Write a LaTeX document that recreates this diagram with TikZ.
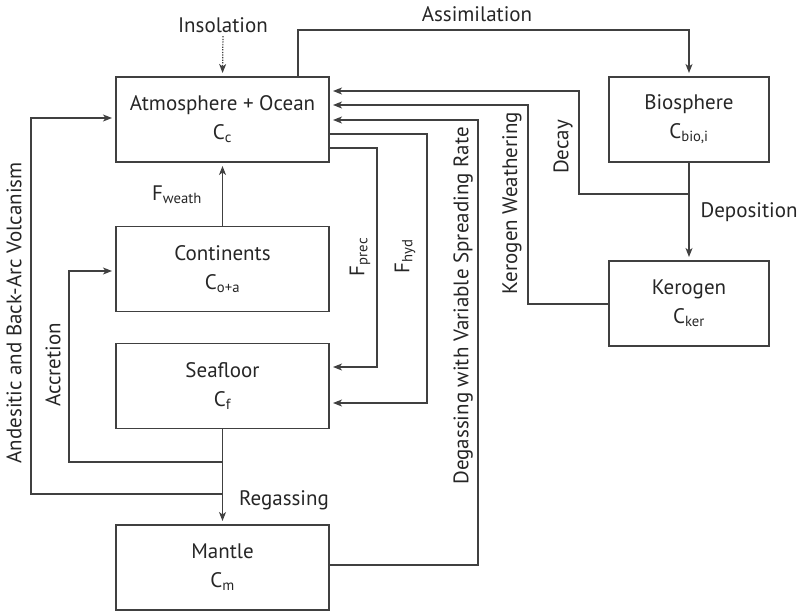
\documentclass[tikz,border=0pt]{standalone}
\usepackage{fontspec}
\setmainfont{PT Sans}
\usetikzlibrary{arrows.meta}
\begin{document}
\begin{tikzpicture}[x=1pt,y=-1pt,
  line width=1.2pt, draw={black!75},
  every node/.style={font=\fontsize{21}{29}\selectfont, text=black!85},
  box/.style={draw, outer sep=0pt, inner sep=0pt, align=center},
  leftbox/.style={box, minimum width=213pt, minimum height=85pt},
  rightbox/.style={box, minimum width=160pt, minimum height=85pt},
  arr/.style={-{Stealth[length=9pt,width=7pt,inset=2.5pt]}, shorten >=4pt},
  dots/.style={dash pattern=on 1.3pt off 1.3pt},
  lbl/.style={inner sep=0pt},
  vlbl/.style={inner sep=0pt, rotate=90}]
\useasboundingbox (0,0) rectangle (804,611);
% boxes
\node[leftbox] (atm) at (222.5,119.5) {Atmosphere + Ocean\\C\textsubscript{c}};
\node[leftbox] (cont) at (222.5,269) {Continents\\C\textsubscript{o+a}};
\node[leftbox] (sea) at (222.5,386) {Seafloor\\C\textsubscript{f}};
\node[leftbox] (mant) at (222.5,567.5) {Mantle\\C\textsubscript{m}};
\node[rightbox] (bio) at (689,119.5) {Biosphere\\C\textsubscript{bio,i}};
\node[rightbox] (ker) at (689,303.5) {Kerogen\\C\textsubscript{ker}};
% insolation
\node[lbl] (ins) at (223,25) {Insolation};
\draw[arr, dots, shorten <=3pt] (ins.south) -- (atm.north);
% assimilation
\draw[arr] (atm.north -| 298,0) -- (298,30) -- (bio.north |- 0,30) -- (bio.north);
\node[lbl] (assim) at (477,14) {Assimilation};
% deposition
\draw[arr] (bio.south) -- (ker.north);
\node[lbl] (depo) at (749,212) {Deposition};
% decay
\draw[arr] (bio.south |- 0,194) -| (579,91) -- (atm.east |- 0,91);
\node[vlbl] (decay) at (563,147) {Decay};
% kerogen weathering
\draw[arr] (ker.west |- 0,304) -| (528,105) -- (atm.east |- 0,105);
\node[vlbl] (kw) at (512,203) {Kerogen Weathering};
% degassing
\draw[arr] (mant.east |- 0,565) -| (478,120) -- (atm.east |- 0,120);
\node[vlbl] (degas) at (463,306) {Degassing with Variable Spreading Rate};
% F_hyd, F_prec
\draw[arr] (atm.east |- 0,134) -| (427,403) -- (sea.east |- 0,403);
\node[vlbl] (fhyd) at (405,256) {F\textsubscript{hyd}};
\draw[arr] (atm.east |- 0,148) -| (377,367) -- (sea.east |- 0,367);
\node[vlbl] (fprec) at (360,257) {F\textsubscript{prec}};
% weathering
\draw[arr] (cont.north) -- (atm.south);
\node[lbl] (fweath) at (177,195) {F\textsubscript{weath}};
% regassing
\draw[arr] (sea.south) -- (mant.north);
\node[lbl] (regas) at (284,500) {Regassing};
% accretion
\draw[arr] (sea.south |- 0,462) -| (69,271) -- (cont.west |- 0,271);
\node[vlbl] (accr) at (53,365) {Accretion};
% andesitic
\draw[arr] (sea.south |- 0,494) -| (31,118) -- (atm.west |- 0,118);
\node[vlbl] (andes) at (14,313) {Andesitic and Back-Arc Volcanism};
\end{tikzpicture}
\end{document}
